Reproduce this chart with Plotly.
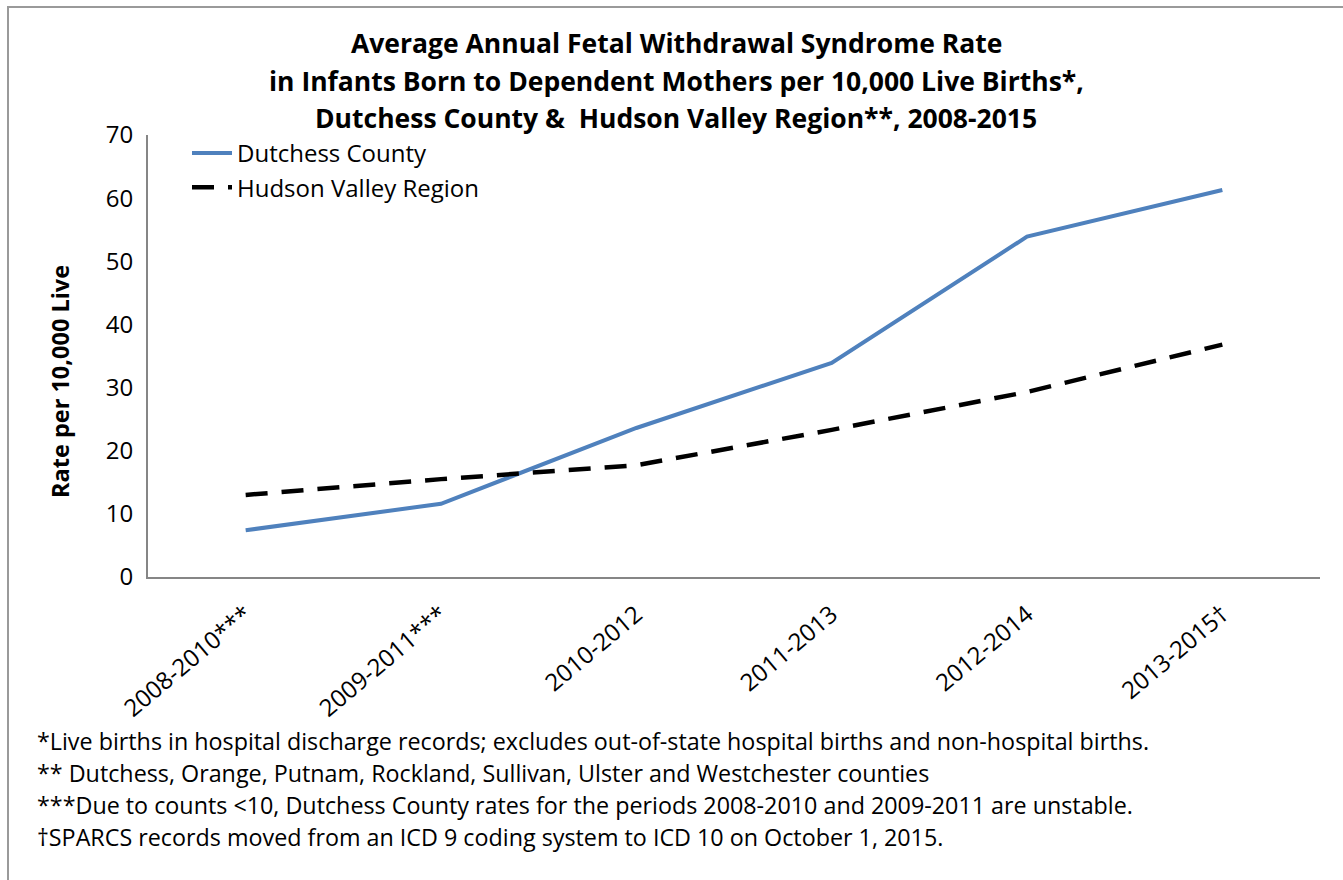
import plotly.graph_objects as go

periods = ["2008-2010***", "2009-2011***", "2010-2012", "2011-2013", "2012-2014", "2013-2015†"]
dutchess = [7.4, 11.6, 23.6, 33.9, 53.9, 61.3]
hudson_valley = [13.0, 15.5, 17.7, 23.3, 29.3, 36.8]

title_lines = [
    "Average Annual Fetal Withdrawal Syndrome Rate",
    "in Infants Born to Dependent Mothers per 10,000 Live Births*,",
    "Dutchess County &  Hudson Valley Region**, 2008-2015",
]
y_title = "Rate per 10,000 Live"
footnotes = [
    "*Live births in hospital discharge records; excludes out-of-state hospital births and non-hospital births.",
    "** Dutchess, Orange, Putnam, Rockland, Sullivan, Ulster and Westchester counties",
    "***Due to counts <10, Dutchess County rates for the periods 2008-2010 and 2009-2011 are unstable.",
    "†SPARCS records moved from an ICD 9 coding system to ICD 10 on October 1, 2015.",
]

FONT = "Open Sans"
W, H = 1343, 880
ML, MR, MT, MB = 148, 23, 135, 303
PW, PH = W - ML - MR, H - MT - MB


def px_x(px):
    return (px - ML) / PW


def px_y(py):
    return (H - MB - py) / PH


fig = go.Figure()
fig.add_trace(go.Scatter(
    x=periods, y=dutchess, mode="lines", name="Dutchess County",
    line=dict(color="#4F81BD", width=4),
))
fig.add_trace(go.Scatter(
    x=periods, y=hudson_valley, mode="lines", name="Hudson Valley Region",
    line=dict(color="#000000", width=4.5, dash="22px,14px"),
))

fig.update_layout(
    width=W, height=H,
    paper_bgcolor="white", plot_bgcolor="white",
    margin=dict(l=ML, r=MR, t=MT, b=MB),
    font=dict(family=FONT, color="black", size=23),
    showlegend=True,
    legend=dict(
        x=px_x(187), y=px_y(131), xanchor="left", yanchor="top",
        bgcolor="rgba(0,0,0,0)", font=dict(size=24),
        tracegroupgap=0, itemwidth=40,
    ),
    xaxis=dict(
        range=[-0.5, 5.5],
        showline=True, linecolor="#868686", linewidth=2,
        showgrid=False, zeroline=False, ticks="",
        tickangle=-40, tickfont=dict(size=24), ticklabelstandoff=12,
    ),
    yaxis=dict(
        range=[0, 70], dtick=10, showline=True, linecolor="#868686", linewidth=2,
        showgrid=False, zeroline=False, ticks="",
        tickfont=dict(size=24), ticklabelstandoff=8,
    ),
)

# Vertical axis caption, set a little below the plot's midline
fig.add_annotation(
    text=y_title, xref="paper", yref="paper",
    x=px_x(60), y=px_y(381), xanchor="center", yanchor="middle",
    textangle=-90, showarrow=False, font=dict(size=23.5, family=FONT, weight="bold"),
)

# Three-line bold heading
for i, line in enumerate(title_lines):
    fig.add_annotation(
        text=line, xref="paper", yref="paper",
        x=px_x(676), y=px_y(43 + i * 37.5), xanchor="center", yanchor="middle",
        showarrow=False, font=dict(size=26.5, family=FONT, weight="bold"),
    )

for i, note in enumerate(footnotes):
    fig.add_annotation(
        text=note, xref="paper", yref="paper",
        x=px_x(35), y=px_y(741 + i * 32), xanchor="left", yanchor="middle",
        showarrow=False, font=dict(size=23.3, family=FONT),
    )

# Outer frame: top and left edges
fig.add_shape(type="line", xref="paper", yref="paper", x0=px_x(7), x1=px_x(1343), y0=px_y(7), y1=px_y(7),
              line=dict(color="#9a9a9a", width=2))
fig.add_shape(type="line", xref="paper", yref="paper", x0=px_x(8), x1=px_x(8), y0=px_y(7), y1=px_y(880),
              line=dict(color="#9a9a9a", width=2))

fig.write_html("out.html")
